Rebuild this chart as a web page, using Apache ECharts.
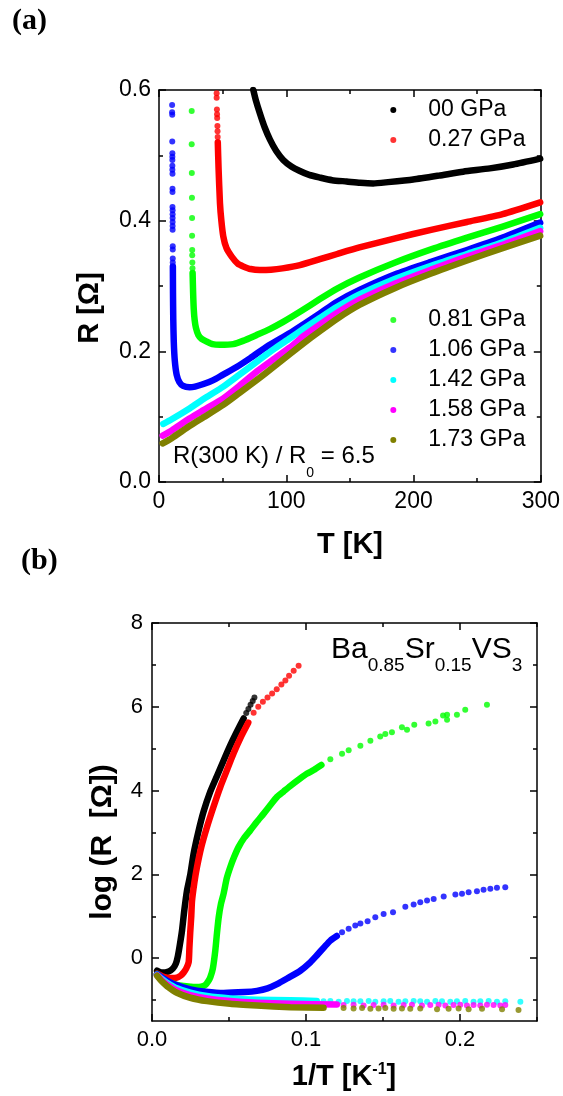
<!DOCTYPE html>
<html><head><meta charset="utf-8">
<script src="https://cdn.jsdelivr.net/npm/echarts@6/dist/echarts.min.js"></script>
<style>html,body{margin:0;padding:0;background:#fff}#c{width:563px;height:1096px}</style>
</head><body><div id="c"></div>
<script>
// ---------- data ----------
const pressures = ['00 GPa','0.27 GPa','0.81 GPa','1.06 GPa','1.42 GPa','1.58 GPa','1.73 GPa'];
const colors = ['#000000','#ff0000','#00ff00','#0000ff','#00ffff','#ff00ff','#808000'];

// panel (a): [T (K), R (Ohm)]
const a00Line = [[74.1,0.600],[76,0.585],[79.3,0.564],[83,0.543],[87.2,0.524],[92,0.507],[97.6,0.493],[104,0.483],[110.7,0.476],[118,0.470],[126.4,0.466],[136,0.462],[147.4,0.460],[158,0.458],[168.3,0.457],[180,0.459],[199.7,0.463],[220,0.469],[239,0.475],[260,0.480],[278.3,0.486],[299.5,0.495]];
const a027Dots = [[45.3,0.595],[45.3,0.588],[45.5,0.570],[45.6,0.563],[45.7,0.557],[45.9,0.545],[46.0,0.537],[46.1,0.528]];
const a027Line = [[46.2,0.520],[46.8,0.480],[47.9,0.427],[49.0,0.400],[50.5,0.376],[53,0.358],[57.1,0.345],[62,0.334],[66.2,0.330],[72,0.326],[79.3,0.3245],[88,0.325],[97,0.327],[110.7,0.332],[126.4,0.341],[140,0.349],[157.5,0.359],[185.6,0.373],[213.8,0.386],[242,0.398],[270,0.410],[299.5,0.428]];
const a081Dots = [[25.7,0.568],[25.7,0.517],[25.8,0.473],[25.9,0.435],[26.0,0.404],[26.0,0.377],[26.1,0.355],[26.1,0.347],[26.2,0.336],[26.3,0.327]];
const a081Line = [[26.4,0.320],[26.8,0.290],[27.3,0.265],[28.0,0.248],[29.0,0.236],[30.9,0.225],[33.5,0.219],[37.4,0.215],[42,0.211],[47.9,0.210],[58.4,0.211],[66,0.216],[76.7,0.225],[87,0.234],[97.6,0.245],[112,0.262],[126.4,0.280],[140,0.296],[157.5,0.313],[185.6,0.336],[213.8,0.356],[242,0.374],[270,0.391],[299.5,0.410]];
const a106Dots = [[10.3,0.577],[10.3,0.566],[10.4,0.562],[10.4,0.521],[10.5,0.503],[10.5,0.498],[10.5,0.493],[10.5,0.484],[10.5,0.478],[10.6,0.472],[10.6,0.449],[10.6,0.444],[10.6,0.421],[10.7,0.416],[10.7,0.410],[10.7,0.404],[10.7,0.398],[10.7,0.392],[10.7,0.386],[10.8,0.361],[10.8,0.356],[10.8,0.342],[10.8,0.336]];
const a106Line = [[10.9,0.330],[11.0,0.290],[11.2,0.250],[11.6,0.215],[12.4,0.186],[13.9,0.164],[16,0.153],[19,0.147],[24,0.145],[28.3,0.146],[35,0.150],[42.7,0.156],[50,0.164],[61,0.176],[72,0.190],[84.6,0.207],[102.9,0.228],[114,0.242],[126.4,0.258],[140,0.276],[157.5,0.294],[185.6,0.318],[213.8,0.337],[242,0.355],[270,0.374],[299.5,0.397]];
const a142Line = [[3.4,0.089],[10,0.096],[24.3,0.113],[35,0.127],[50.5,0.146],[63,0.164],[76.7,0.184],[90,0.203],[102.9,0.220],[114,0.235],[126.4,0.251],[140,0.268],[157.5,0.287],[185.6,0.311],[213.8,0.331],[242,0.349],[270,0.367],[299.5,0.389]];
const a158Line = [[2.9,0.071],[10,0.079],[24.3,0.0975],[35,0.110],[50.5,0.128],[63,0.147],[76.7,0.169],[90,0.188],[102.9,0.206],[114,0.224],[126.4,0.241],[140,0.259],[157.5,0.279],[185.6,0.304],[213.8,0.325],[242,0.345],[270,0.363],[299.5,0.384]];
const a173Line = [[2.9,0.059],[10,0.067],[24.3,0.086],[35,0.099],[50.5,0.118],[63,0.136],[76.7,0.156],[90,0.176],[102.9,0.196],[114,0.213],[126.4,0.231],[140,0.250],[157.5,0.271],[185.6,0.297],[213.8,0.319],[242,0.339],[270,0.358],[299.5,0.377]];

// panel (b): [1/T (1/K), log R]
const b00Line = [[0.0033,-0.30],[0.0065,-0.345],[0.0108,-0.32],[0.0135,-0.25],[0.0155,-0.13],[0.0168,0.05],[0.018,0.30],[0.0195,0.66],[0.021,1.15],[0.0227,1.61],[0.0249,2.0],[0.027,2.49],[0.030,3.0],[0.0335,3.50],[0.0379,3.98],[0.0422,4.35],[0.0465,4.72],[0.0508,5.08],[0.055,5.40],[0.0595,5.72]];
const b00Dots = [[0.0612,5.85],[0.0626,5.95],[0.0640,6.05],[0.0654,6.14],[0.0665,6.22]];
const b027Line = [[0.0033,-0.37],[0.0065,-0.43],[0.0097,-0.465],[0.0130,-0.475],[0.0162,-0.465],[0.0185,-0.42],[0.0205,-0.345],[0.0222,-0.25],[0.0238,-0.10],[0.0243,0.25],[0.0248,0.60],[0.0255,1.0],[0.026,1.37],[0.0275,1.8],[0.0292,2.17],[0.032,2.65],[0.0357,3.13],[0.040,3.62],[0.0444,4.09],[0.049,4.52],[0.053,4.89],[0.058,5.30],[0.0625,5.62]];
const b027Dots = [[0.0660,5.86],[0.0690,6.0],[0.0720,6.12],[0.0750,6.22],[0.0780,6.32],[0.0810,6.42],[0.0840,6.53],[0.0866,6.63],[0.0890,6.74],[0.0920,6.86],[0.0952,6.98]];
const b081Line = [[0.0033,-0.38],[0.0065,-0.48],[0.0097,-0.56],[0.0119,-0.59],[0.0162,-0.64],[0.0205,-0.665],[0.025,-0.68],[0.0292,-0.69],[0.032,-0.68],[0.0346,-0.64],[0.0365,-0.55],[0.0379,-0.45],[0.0395,-0.25],[0.0411,0.18],[0.0422,0.6],[0.0433,0.97],[0.0448,1.3],[0.0465,1.54],[0.0485,1.9],[0.0508,2.17],[0.0535,2.43],[0.0562,2.65],[0.060,2.88],[0.0638,3.05],[0.068,3.25],[0.0725,3.45],[0.0770,3.66],[0.0812,3.85],[0.0855,3.98],[0.0898,4.11],[0.0963,4.29],[0.1005,4.40],[0.105,4.49],[0.110,4.61]];
const b081Dots = [[0.1158,4.75],[0.1234,4.88],[0.1277,4.96],[0.1353,5.07],[0.1418,5.19],[0.1482,5.29],[0.1515,5.35],[0.1558,5.39],[0.1623,5.51],[0.1656,5.45],[0.1703,5.57],[0.1796,5.60],[0.1840,5.65],[0.1890,5.79],[0.1916,5.81],[0.1916,5.69],[0.1980,5.81],[0.2034,5.93],[0.2175,6.05]];
const b106Line = [[0.0033,-0.38],[0.008,-0.50],[0.014,-0.62],[0.0249,-0.745],[0.035,-0.80],[0.0465,-0.83],[0.060,-0.81],[0.0682,-0.78],[0.075,-0.72],[0.0812,-0.62],[0.088,-0.48],[0.0963,-0.30],[0.1028,-0.10],[0.1071,0.07],[0.112,0.27],[0.1158,0.42],[0.120,0.53]];
const b106Dots = [[0.1234,0.62],[0.1277,0.70],[0.1320,0.78],[0.1353,0.83],[0.1400,0.88],[0.1450,0.975],[0.1504,1.055],[0.1565,1.095],[0.1645,1.23],[0.1699,1.28],[0.1742,1.335],[0.1786,1.375],[0.1829,1.415],[0.1894,1.47],[0.1970,1.52],[0.2013,1.535],[0.2056,1.575],[0.2110,1.60],[0.2153,1.63],[0.2197,1.655],[0.2240,1.68],[0.2294,1.695]];
const b142Line = [[0.0033,-0.40],[0.0065,-0.50],[0.0097,-0.585],[0.0162,-0.72],[0.0249,-0.825],[0.0357,-0.905],[0.0508,-0.96],[0.0682,-0.99],[0.0898,-1.005],[0.107,-1.02]];
const b142Dots = [[0.1114,-1.03],[0.1158,-1.02],[0.1212,-1.04],[0.1266,-1.02],[0.1309,-1.03],[0.1353,-1.03],[0.1407,-1.02],[0.1450,-1.04],[0.1504,-1.03],[0.1547,-1.02],[0.1601,-1.04],[0.1645,-1.03],[0.1699,-1.02],[0.1742,-1.03],[0.1786,-1.04],[0.1840,-1.02],[0.1883,-1.03],[0.1937,-1.04],[0.1980,-1.03],[0.2034,-1.02],[0.2088,-1.04],[0.2132,-1.03],[0.2186,-1.02],[0.2240,-1.04],[0.2294,-1.03],[0.2392,-1.04]];
const b158Line = [[0.0033,-0.41],[0.0065,-0.53],[0.0097,-0.625],[0.0162,-0.77],[0.0249,-0.88],[0.0357,-0.96],[0.0508,-1.025],[0.0682,-1.065],[0.0898,-1.09],[0.120,-1.105]];
const b158Dots = [[0.1244,-1.12],[0.1309,-1.11],[0.1374,-1.13],[0.1439,-1.12],[0.1504,-1.11],[0.1569,-1.13],[0.1634,-1.12],[0.1688,-1.11],[0.1753,-1.13],[0.1807,-1.12],[0.1861,-1.11],[0.1905,-1.13],[0.1958,-1.12],[0.2002,-1.11],[0.2045,-1.13],[0.2088,-1.12],[0.2132,-1.13],[0.2175,-1.11],[0.2218,-1.12],[0.2262,-1.13],[0.2294,-1.12]];
const b173Line = [[0.0033,-0.42],[0.0065,-0.56],[0.0097,-0.665],[0.0162,-0.825],[0.0249,-0.945],[0.0357,-1.025],[0.0508,-1.09],[0.0682,-1.13],[0.0898,-1.17],[0.1114,-1.185]];
const b173Dots = [[0.1244,-1.19],[0.1309,-1.20],[0.1364,-1.19],[0.1418,-1.21],[0.1471,-1.20],[0.1515,-1.19],[0.1569,-1.21],[0.1623,-1.20],[0.1677,-1.21],[0.1742,-1.20],[0.1851,-1.22],[0.1926,-1.21],[0.1991,-1.20],[0.2056,-1.22],[0.2143,-1.21],[0.2273,-1.22],[0.2380,-1.24]];

// axis ticks
const aXMajor = [0,100,200,300], aXMinor = [50,150,250];
const aYMajor = [0,0.2,0.4,0.6], aYMinor = [0.1,0.3,0.5];
const bXMajor = [0,0.1,0.2], bXMinor = [0.05,0.15,0.25];
const bYMajor = [0,2,4,6,8], bYMinor = [-1,1,3,5,7];

// ---------- build ----------
const FONT = '"Liberation Sans", Arial, Helvetica, sans-serif';
const SERIF = '"Liberation Serif", "Times New Roman", serif';
const LW = 1.5;

function makeAxes(grid, dim, min, max, majors, minors, fmt, fs, margin) {
  const mainPos = dim === 'x' ? 'bottom' : 'left';
  const mirPos = dim === 'x' ? 'top' : 'right';
  const mk = (pos, showLine, ticks, len, labels) => ({
    type: 'value', gridIndex: grid, position: pos, min: min, max: max,
    splitLine: {show: false}, minorTick: {show: false},
    axisLine: {show: showLine, onZero: false, lineStyle: {color: '#000', width: LW}},
    axisTick: {show: true, inside: true, length: len, customValues: ticks, lineStyle: {color: '#000', width: LW}},
    axisLabel: labels ? {show: true, customValues: majors, formatter: fmt, fontSize: fs, color: '#000', fontFamily: FONT, margin: margin} : {show: false}
  });
  return [
    mk(mainPos, true, majors, 7, true),
    mk(mainPos, false, minors, 4, false),
    mk(mirPos, true, majors, 7, false),
    mk(mirPos, false, minors, 4, false)
  ];
}

function lineS(i, data, xi) {
  return {type: 'line', name: pressures[i], data: data, xAxisIndex: xi, yAxisIndex: xi,
    symbol: 'none', smooth: 0.2, clip: true, silent: true,
    lineStyle: {color: colors[i], width: 6.5, cap: 'round', join: 'round'},
    itemStyle: {color: colors[i]}};
}
function dotS(i, data, xi) {
  return {type: 'scatter', name: pressures[i], data: data, xAxisIndex: xi, yAxisIndex: xi,
    symbol: 'circle', symbolSize: 6, clip: true, silent: true,
    itemStyle: {color: colors[i]}};
}

const series = [
  lineS(0, a00Line, 0),
  dotS(1, a027Dots, 0), lineS(1, a027Line, 0),
  dotS(2, a081Dots, 0), lineS(2, a081Line, 0),
  dotS(3, a106Dots, 0), lineS(3, a106Line, 0),
  lineS(4, a142Line, 0),
  lineS(5, a158Line, 0),
  lineS(6, a173Line, 0),

  lineS(0, b00Line, 4), dotS(0, b00Dots, 4),
  lineS(1, b027Line, 4), dotS(1, b027Dots, 4),
  lineS(2, b081Line, 4), dotS(2, b081Dots, 4),
  lineS(3, b106Line, 4), dotS(3, b106Dots, 4),
  lineS(4, b142Line, 4), dotS(4, b142Dots, 4),
  lineS(5, b158Line, 4), dotS(5, b158Dots, 4),
  lineS(6, b173Line, 4), dotS(6, b173Dots, 4)
];

// legend: icon box 60 wide, the dot sits in its centre; layout aligns to the dot's own bounds
const legendBase = {
  orient: 'vertical', left: 390.3, padding: 0, icon: 'circle',
  itemWidth: 60, itemHeight: 6, itemGap: 7, selectedMode: false,
  itemStyle: {borderWidth: 0},
  textStyle: {fontSize: 23, lineHeight: 23, color: '#000', fontFamily: FONT}
};

const option = {
  animation: false,
  backgroundColor: '#ffffff',
  grid: [
    {left: 159, top: 90, width: 382, height: 392},
    {left: 152, top: 623, width: 385, height: 398}
  ],
  xAxis: [].concat(
    makeAxes(0, 'x', 0, 300, aXMajor, aXMinor, v => String(Math.round(v)), 23, 8),
    makeAxes(1, 'x', 0, 0.25, bXMajor, bXMinor, v => v.toFixed(1), 22, 8)
  ),
  yAxis: [].concat(
    makeAxes(0, 'y', 0, 0.6, aYMajor, aYMinor, v => v.toFixed(1), 23, 8),
    makeAxes(1, 'y', -1.5, 8, bYMajor, bYMinor, v => String(Math.round(v)), 22, 9)
  ),
  legend: [
    Object.assign({}, legendBase, {top: 98.5, data: pressures.slice(0, 2)}),
    Object.assign({}, legendBase, {top: 308.5, data: pressures.slice(2)})
  ],
  series: series,
  graphic: [
    {type: 'text', x: 12, y: 21, style: {text: '(a)', font: 'bold 30px ' + SERIF, fill: '#000', align: 'left', verticalAlign: 'middle'}},
    {type: 'text', x: 21, y: 561, style: {text: '(b)', font: 'bold 30px ' + SERIF, fill: '#000', align: 'left', verticalAlign: 'middle'}},
    {type: 'text', x: 90, y: 308, rotation: Math.PI / 2, style: {text: 'R [Ω]', font: 'bold 29px ' + FONT, fill: '#000', align: 'center', verticalAlign: 'middle'}},
    {type: 'text', x: 350, y: 545, style: {text: 'T [K]', font: 'bold 29px ' + FONT, fill: '#000', align: 'center', verticalAlign: 'middle'}},
    {type: 'text', x: 103, y: 842, rotation: Math.PI / 2, style: {text: 'log (R  [Ω])', font: 'bold 30px ' + FONT, fill: '#000', align: 'center', verticalAlign: 'middle'}},
    {type: 'text', x: 344, y: 1062, style: {
      text: '{m|1/T [K}{p|-1}{m|]}', align: 'center', verticalAlign: 'top',
      rich: {
        m: {fontSize: 29, fontWeight: 'bold', fontFamily: FONT, fill: '#000', lineHeight: 30, verticalAlign: 'top'},
        p: {fontSize: 16, fontWeight: 'bold', fontFamily: FONT, fill: '#000', lineHeight: 16, verticalAlign: 'top'}
      }}},
    {type: 'text', x: 331, y: 635, style: {
      text: '{m|Ba}{s|0.85}{m|Sr}{s|0.15}{m|VS}{s|3}', align: 'left', verticalAlign: 'top',
      rich: {
        m: {fontSize: 30, fontFamily: FONT, fill: '#000', lineHeight: 30, verticalAlign: 'top'},
        s: {fontSize: 19, fontFamily: FONT, fill: '#000', lineHeight: 19, verticalAlign: 'top', padding: [21, 0, 0, 0]}
      }}},
    {type: 'text', x: 173, y: 444, style: {
      text: '{m|R(300 K) / R}{s|0}{m| = 6.5}', align: 'left', verticalAlign: 'top',
      rich: {
        m: {fontSize: 24, fontFamily: FONT, fill: '#000', lineHeight: 24, verticalAlign: 'top'},
        s: {fontSize: 14, fontFamily: FONT, fill: '#000', lineHeight: 14, verticalAlign: 'top', padding: [22, 0, 0, 0]}
      }}}
  ]
};

const chart = echarts.init(document.getElementById('c'), null, {renderer: 'canvas'});
chart.setOption(option);
</script>
</body></html>
